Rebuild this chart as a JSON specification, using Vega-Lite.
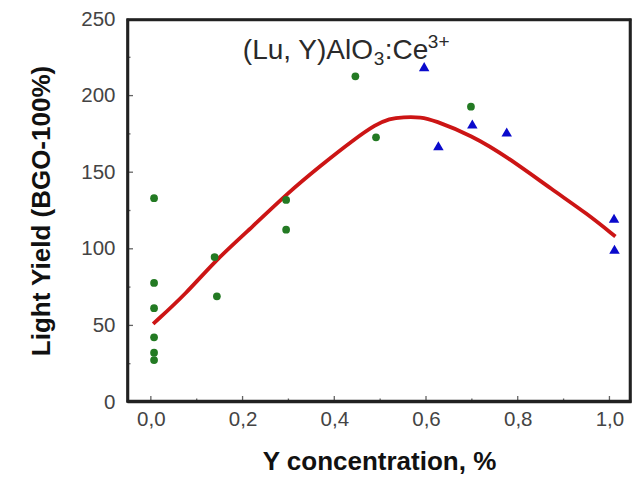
{
  "$schema": "https://vega.github.io/schema/vega-lite/v6.json",
  "autosize": "none",
  "width": 504,
  "height": 383,
  "padding": {"left": 127, "top": 19, "right": 6, "bottom": 76},
  "background": "white",
  "view": {"stroke": "#222", "strokeWidth": 1.5, "strokeOpacity": 1},
  "config": {
    "font": "Liberation Sans",
    "axis": {"grid": false, "domain": true, "domainColor": "#222", "domainWidth": 1.5, "domainOpacity": 1, "ticks": false, "labelFont": "Liberation Sans", "labelFontSize": 20.5, "labelColor": "#444", "titleFont": "Liberation Sans", "titleFontSize": 26, "titleFontWeight": "bold", "titleColor": "#111"}
  },
  "datasets": {
    "curve": [
      {"x": 0.005, "y": 51}, {"x": 0.078, "y": 71}, {"x": 0.139, "y": 92}, {"x": 0.224, "y": 115},
      {"x": 0.297, "y": 136}, {"x": 0.369, "y": 154}, {"x": 0.446, "y": 172}, {"x": 0.49, "y": 181},
      {"x": 0.52, "y": 185}, {"x": 0.55, "y": 186}, {"x": 0.59, "y": 186}, {"x": 0.616, "y": 184},
      {"x": 0.70, "y": 174}, {"x": 0.777, "y": 160}, {"x": 0.878, "y": 138}, {"x": 0.951, "y": 123},
      {"x": 1.013, "y": 108}
    ],
    "green": [
      {"x": 0.007, "y": 133}, {"x": 0.007, "y": 77.7}, {"x": 0.007, "y": 61.2}, {"x": 0.007, "y": 42.2},
      {"x": 0.007, "y": 32.2}, {"x": 0.007, "y": 27.4}, {"x": 0.139, "y": 94.6}, {"x": 0.144, "y": 69},
      {"x": 0.295, "y": 131.9}, {"x": 0.295, "y": 112.5}, {"x": 0.446, "y": 212.6}, {"x": 0.491, "y": 172.8},
      {"x": 0.698, "y": 192.8}
    ],
    "blue": [
      {"x": 0.596, "y": 218.9}, {"x": 0.627, "y": 167.3}, {"x": 0.701, "y": 181.5}, {"x": 0.776, "y": 176.2},
      {"x": 1.010, "y": 119.9}, {"x": 1.011, "y": 99.7}
    ],
    "label": [{"x": 0.2006, "y": 224}],
    "edges": [
      {"x1": -0.052, "x2": -0.0476, "y1": 0, "y2": 250},
      {"x1": 1.0426, "x2": 1.047, "y1": 0, "y2": 250},
      {"x1": -0.052, "x2": 1.047, "y1": 0, "y2": 1.3},
      {"x1": -0.052, "x2": 1.047, "y1": 248.7, "y2": 250}
    ],
    "xmajor": [{"x": 0}, {"x": 0.2}, {"x": 0.4}, {"x": 0.6}, {"x": 0.8}, {"x": 1.0}],
    "xminor": [{"x": 0.1}, {"x": 0.3}, {"x": 0.5}, {"x": 0.7}, {"x": 0.9}],
    "ymajor": [{"y": 50}, {"y": 100}, {"y": 150}, {"y": 200}],
    "yminor": [{"y": 25}, {"y": 75}, {"y": 125}, {"y": 175}, {"y": 225}]
  },
  "layer": [
    {
      "data": {"name": "curve"},
      "mark": {"type": "line", "color": "#cc1515", "strokeWidth": 3.8, "interpolate": "basis"},
      "encoding": {
        "x": {"field": "x", "type": "quantitative", "scale": {"domain": [-0.052, 1.047], "nice": false, "zero": false},
          "axis": {"title": "Y concentration, %", "values": [0, 0.2, 0.4, 0.6, 0.8, 1.0],
            "labelExpr": "replace(format(datum.value, '.1f'), '.', ',')",
            "labelPadding": 7, "titlePadding": 19}},
        "y": {"field": "y", "type": "quantitative", "scale": {"domain": [0, 250], "nice": false},
          "axis": {"title": "Light Yield (BGO-100%)", "values": [0, 50, 100, 150, 200, 250],
            "labelPadding": 12, "titlePadding": 26}}
      }
    },
    {
      "data": {"name": "edges"},
      "mark": {"type": "rect", "fill": "#222", "stroke": "#222", "strokeWidth": 0.5, "opacity": 1},
      "encoding": {
        "x": {"field": "x1", "type": "quantitative"}, "x2": {"field": "x2"},
        "y": {"field": "y1", "type": "quantitative"}, "y2": {"field": "y2"}
      }
    },
    {
      "data": {"name": "xmajor"},
      "mark": {"type": "tick", "orient": "vertical", "color": "#222", "size": 6, "thickness": 1.3, "yOffset": -3},
      "encoding": {"x": {"field": "x", "type": "quantitative"}, "y": {"datum": 0, "type": "quantitative"}}
    },
    {
      "data": {"name": "xminor"},
      "mark": {"type": "tick", "orient": "vertical", "color": "#222", "size": 3.5, "thickness": 1.3, "yOffset": -1.75},
      "encoding": {"x": {"field": "x", "type": "quantitative"}, "y": {"datum": 0, "type": "quantitative"}}
    },
    {
      "data": {"name": "ymajor"},
      "mark": {"type": "tick", "orient": "horizontal", "color": "#222", "size": 6, "thickness": 1.3, "xOffset": 3},
      "encoding": {"y": {"field": "y", "type": "quantitative"}, "x": {"datum": -0.052, "type": "quantitative"}}
    },
    {
      "data": {"name": "yminor"},
      "mark": {"type": "tick", "orient": "horizontal", "color": "#222", "size": 3.5, "thickness": 1.3, "xOffset": 1.75},
      "encoding": {"y": {"field": "y", "type": "quantitative"}, "x": {"datum": -0.052, "type": "quantitative"}}
    },
    {
      "data": {"name": "green"},
      "mark": {"type": "point", "shape": "circle", "filled": true, "color": "#237a23", "size": 60, "opacity": 1},
      "encoding": {"x": {"field": "x", "type": "quantitative"}, "y": {"field": "y", "type": "quantitative"}}
    },
    {
      "data": {"name": "blue"},
      "mark": {"type": "point", "shape": "triangle-up", "filled": true, "color": "#0a0acc", "size": 110, "opacity": 1},
      "encoding": {"x": {"field": "x", "type": "quantitative"}, "y": {"field": "y", "type": "quantitative"}}
    },
    {
      "data": {"name": "label"},
      "mark": {"type": "text", "align": "left", "baseline": "alphabetic", "fontSize": 28, "font": "Liberation Sans", "color": "#2a2a2a", "text": "(Lu, Y)AlO"},
      "encoding": {"x": {"field": "x", "type": "quantitative"}, "y": {"field": "y", "type": "quantitative"}}
    },
    {
      "data": {"name": "label"},
      "mark": {"type": "text", "align": "left", "baseline": "alphabetic", "fontSize": 19, "font": "Liberation Sans", "color": "#2a2a2a", "text": "3", "dx": 131, "dy": 6},
      "encoding": {"x": {"field": "x", "type": "quantitative"}, "y": {"field": "y", "type": "quantitative"}}
    },
    {
      "data": {"name": "label"},
      "mark": {"type": "text", "align": "left", "baseline": "alphabetic", "fontSize": 28, "font": "Liberation Sans", "color": "#2a2a2a", "text": ":Ce", "dx": 142},
      "encoding": {"x": {"field": "x", "type": "quantitative"}, "y": {"field": "y", "type": "quantitative"}}
    },
    {
      "data": {"name": "label"},
      "mark": {"type": "text", "align": "left", "baseline": "alphabetic", "fontSize": 19, "font": "Liberation Sans", "color": "#2a2a2a", "text": "3+", "dx": 185, "dy": -11},
      "encoding": {"x": {"field": "x", "type": "quantitative"}, "y": {"field": "y", "type": "quantitative"}}
    }
  ]
}
